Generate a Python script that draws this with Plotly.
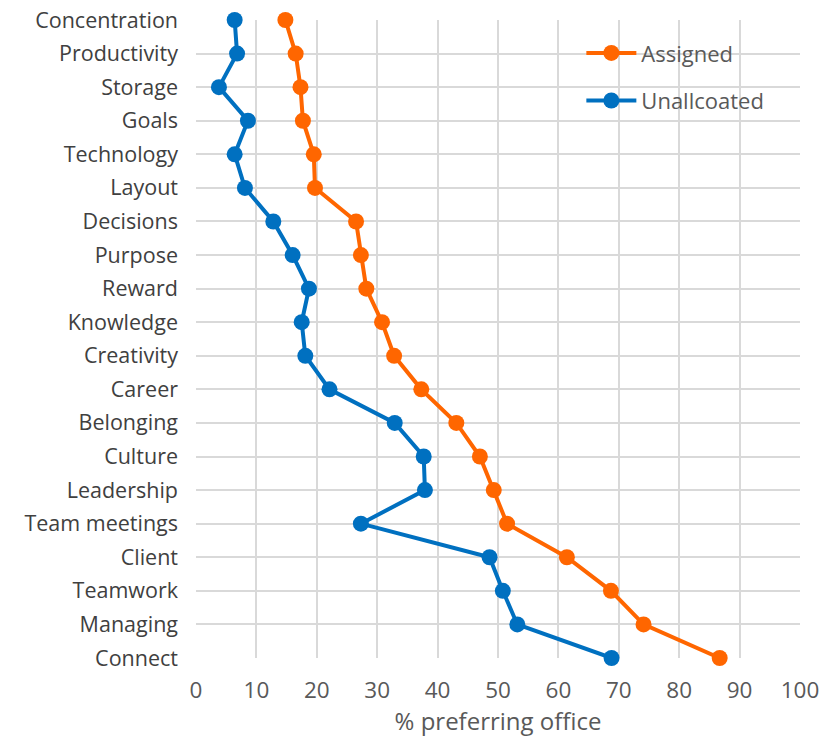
import plotly.graph_objects as go

categories = ["Concentration", "Productivity", "Storage", "Goals", "Technology", "Layout",
              "Decisions", "Purpose", "Reward", "Knowledge", "Creativity", "Career",
              "Belonging", "Culture", "Leadership", "Team meetings", "Client", "Teamwork",
              "Managing", "Connect"]
assigned = [14.8, 16.5, 17.3, 17.7, 19.5, 19.7, 26.5, 27.3, 28.2, 30.8, 32.8, 37.3,
            43.1, 47.0, 49.3, 51.5, 61.4, 68.7, 74.1, 86.7]
unallocated = [6.4, 6.8, 3.8, 8.6, 6.4, 8.1, 12.8, 16.0, 18.7, 17.5, 18.1, 22.1,
               32.9, 37.7, 37.9, 27.3, 48.6, 50.8, 53.2, 68.8]
x_ticks = list(range(0, 101, 10))

ORANGE = "#ff6600"
BLUE = "#0070c0"
FONT = "Open Sans"

fig = go.Figure()
fig.add_trace(go.Scatter(x=assigned, y=categories, name="Assigned", mode="lines+markers",
                         line=dict(color=ORANGE, width=4), marker=dict(size=16, color=ORANGE),
                         cliponaxis=False, legendgroup="a"))
fig.add_trace(go.Scatter(x=unallocated, y=categories, name="Unallcoated", mode="lines+markers",
                         line=dict(color=BLUE, width=4), marker=dict(size=16, color=BLUE),
                         cliponaxis=False, legendgroup="b"))

fig.update_layout(
    width=833, height=738,
    margin=dict(l=196, r=33, t=20, b=80),
    paper_bgcolor="white", plot_bgcolor="white",
    font=dict(family=FONT, size=20, color="#595959"),
    legend=dict(x=0.638, y=0.981, xanchor="left", yanchor="top",
                bgcolor="rgba(0,0,0,0)", font=dict(size=22, color="#595959"),
                tracegroupgap=16, itemwidth=50),
    xaxis=dict(range=[0, 100], tickvals=x_ticks, showgrid=True, gridcolor="#d9d9d9",
               gridwidth=1.5, zeroline=False, showline=False, ticks="",
               ticklabelstandoff=16, automargin=False,
               title=dict(text="% preferring office", font=dict(size=24, color="#595959"),
                          standoff=4),
               tickfont=dict(size=22.5, color="#595959")),
    yaxis=dict(type="category", categoryorder="array", categoryarray=categories,
               range=[19, 0], showgrid=True, gridcolor="#d9d9d9", gridwidth=1.5,
               zeroline=False, showline=False, ticks="", ticklabelstandoff=17,
               automargin=False,
               tickfont=dict(size=21.5, color="#404040")),
)

fig.write_html("out.html", config={"displayModeBar": False},
               post_script="document.body.style.margin='0';document.body.style.padding='0';")
